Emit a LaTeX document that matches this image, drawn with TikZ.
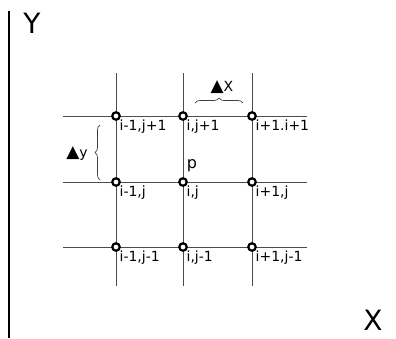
\documentclass[tikz,border=0pt]{standalone}
\usepackage{fontspec}
\setmainfont{DejaVu Sans}
\usetikzlibrary{positioning,decorations.pathreplacing}

\newcommand{\tri}{{\fontsize{17}{17}\selectfont ▲}}

\begin{document}
\begin{tikzpicture}[
  x=1pt, y=-1pt,
  gridline/.style={draw=black!70, line width=1pt},
  gpoint/.style={circle, draw, line width=2.2pt, inner sep=0pt, minimum size=7.5pt, fill=white},
  lbl/.style={font=\fontsize{14}{16}\selectfont, inner sep=1pt},
  axlbl/.style={font=\fontsize{28}{30}\selectfont, inner sep=0pt},
  brc/.style={decorate, decoration={brace, amplitude=5pt}, draw=black!75, line width=0.7pt}
]
\useasboundingbox (0,0) rectangle (396,338);
% axis and axis names
\coordinate (axtop) at (9,11);
\coordinate (axbot) at (9,338);
\draw[line width=2pt] (axtop) -- (axbot);
\node[axlbl] (ylab) at (32,23) {Y};
\node[axlbl] (xlab) at (373,320) {X};
% grid lines
\foreach \x/\c in {116/0,183/1,252/2}{
  \coordinate (top\c) at (\x,73);
  \coordinate (bot\c) at (\x,286);
  \draw[gridline] (top\c) -- (bot\c);
}
\foreach \y/\r in {116/0,182/1,247/2}{
  \coordinate (lft\r) at (63,\y);
  \coordinate (rgt\r) at (307,\y);
  \draw[gridline] (lft\r) -- (rgt\r);
}
% grid points
\foreach \x/\c in {116/0,183/1,252/2}
  \foreach \y/\r in {116/0,182/1,247/2}
    \node[gpoint] (p\c\r) at (\x,\y) {};
\node[lbl, below right=-1pt and -1pt of p00] (l00) {i-1,j+1};
\node[lbl, below right=-1pt and -1pt of p10] (l10) {i,j+1};
\node[lbl, below right=-1pt and -1pt of p20] (l20) {i+1.i+1};
\node[lbl, below right=-1pt and -1pt of p01] (l01) {i-1,j};
\node[lbl, below right=-1pt and -1pt of p11] (l11) {i,j};
\node[lbl, below right=-1pt and -1pt of p21] (l21) {i+1,j};
\node[lbl, below right=-1pt and -1pt of p02] (l02) {i-1,j-1};
\node[lbl, below right=-1pt and -1pt of p12] (l12) {i,j-1};
\node[lbl, below right=-1pt and -1pt of p22] (l22) {i+1,j-1};
\node[font=\fontsize{16}{18}\selectfont, inner sep=0pt] (pnode) at (192,166) {p};
% spacing braces
\coordinate (dxa) at (195,103);
\coordinate (dxb) at (243,103);
\draw[brc] (dxa) -- (dxb);
\node[lbl] (dx) at (222,87) {\tri X};
\coordinate (dya) at (100,180);
\coordinate (dyb) at (100,125);
\draw[brc] (dya) -- (dyb);
\node[lbl] (dy) at (77,153) {\tri y};
\end{tikzpicture}
\end{document}
